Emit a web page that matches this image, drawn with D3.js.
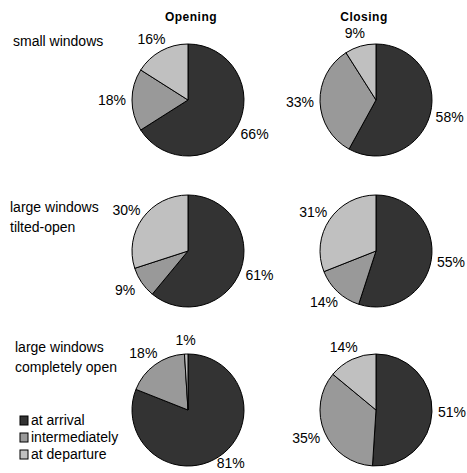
<!DOCTYPE html>
<html>
<head>
<meta charset="utf-8">
<script src="https://cdn.jsdelivr.net/npm/d3@7"></script>
<style>
  body { margin: 0; background: #fff; }
  text { font-family: Arial, "Liberation Sans", sans-serif; fill: #000; }
</style>
</head>
<body>
<svg id="chart" width="467" height="473"></svg>
<script>
// categories, in drawing order (clockwise from 12 o'clock)
var categories = ["at arrival", "intermediately", "at departure"];
var colors = ["#333333", "#999999", "#c0c0c0"];

var columns = ["Opening", "Closing"];
var rowLabels = [
  ["small windows"],
  ["large windows", "tilted-open"],
  ["large windows", "completely open"]
];

// percentages per row: [opening, closing]
var smallOpening = [66, 18, 16];
var smallClosing = [58, 33, 9];
var tiltedOpening = [61, 9, 30];
var tiltedClosing = [55, 14, 31];
var openOpening = [81, 18, 1];
var openClosing = [51, 35, 14];

var pies = [
  { row: 0, col: 0, values: smallOpening },
  { row: 0, col: 1, values: smallClosing },
  { row: 1, col: 0, values: tiltedOpening },
  { row: 1, col: 1, values: tiltedClosing },
  { row: 2, col: 0, values: openOpening },
  { row: 2, col: 1, values: openClosing }
];

var svg = d3.select("#chart");

// layout
var colX = [188, 376];
var rowY = [100, 251, 410];
var radius = 56;
var titleX = [191, 364];

var color = d3.scaleOrdinal().domain(categories).range(colors);

var pie = d3.pie().sort(null).value(function (d) { return d; });
var arc = d3.arc().innerRadius(0).outerRadius(radius);
// labels sit a bit further out sideways than up/down
var labelArcX = d3.arc().innerRadius(radius + 20).outerRadius(radius + 20);
var labelArcY = d3.arc().innerRadius(radius + 14).outerRadius(radius + 14);

// column titles
svg.selectAll(".title")
  .data(columns)
  .enter()
  .append("text")
  .attr("class", "title")
  .attr("x", function (d, i) { return titleX[i]; })
  .attr("y", 21)
  .attr("text-anchor", "middle")
  .style("font-weight", "bold")
  .style("font-size", "12px")
  .style("letter-spacing", "0.5px")
  .text(function (d) { return d; });

// row labels
var rowTextY = [46, 212, 352];
var rowTextX = [13, 10, 15];
rowLabels.forEach(function (lines, r) {
  lines.forEach(function (line, k) {
    svg.append("text")
      .attr("x", rowTextX[r])
      .attr("y", rowTextY[r] + k * 20)
      .style("font-size", "14px")
      .text(line);
  });
});

// pies
pies.forEach(function (p) {
  var g = svg.append("g")
    .attr("transform", "translate(" + colX[p.col] + "," + rowY[p.row] + ")");

  var arcs = pie(p.values);

  g.selectAll("path")
    .data(arcs)
    .enter()
    .append("path")
    .attr("d", arc)
    .attr("fill", function (d, i) { return color(categories[i]); })
    .attr("stroke", "#000")
    .attr("stroke-width", 1);

  g.selectAll("text")
    .data(arcs)
    .enter()
    .append("text")
    .attr("x", function (d) { return labelArcX.centroid(d)[0]; })
    .attr("y", function (d) {
      var y = labelArcY.centroid(d)[1] + 5;
      // keep the label inside the picture
      var maxY = 468 - rowY[p.row];
      return Math.min(y, maxY);
    })
    .attr("text-anchor", "middle")
    .style("font-size", "14px")
    .text(function (d) { return d.data + "%"; });
});

// legend
var legend = svg.append("g").attr("transform", "translate(20,416)");
var item = legend.selectAll("g")
  .data(categories)
  .enter()
  .append("g")
  .attr("transform", function (d, i) { return "translate(0," + i * 17 + ")"; });

item.append("rect")
  .attr("width", 8)
  .attr("height", 9)
  .attr("fill", function (d) { return color(d); })
  .attr("stroke", "#000")
  .attr("stroke-width", 1);

item.append("text")
  .attr("x", 11)
  .attr("y", 9)
  .style("font-size", "14px")
  .text(function (d) { return d; });
</script>
</body>
</html>
